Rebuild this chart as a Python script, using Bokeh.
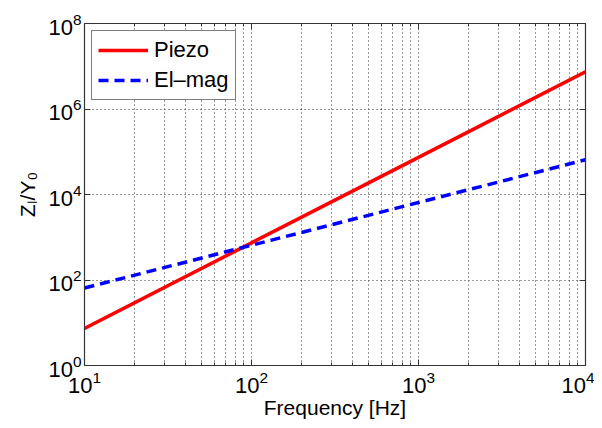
from bokeh.plotting import figure
from bokeh.models import FixedTicker, LogAxis, Legend
from bokeh.embed import file_html
from bokeh.resources import INLINE

freq = [10, 100, 1000, 10000]
piezo = [7.4, 740, 7.4e4, 7.4e6]
elmag = [65, 650, 6500, 65000]

x_major = [10, 100, 1000, 10000]
x_minor = [m * d for d in (10, 100, 1000) for m in range(2, 10)]
y_major = [1, 1e2, 1e4, 1e6, 1e8]

FONT = "Liberation Sans"
AX = "#333333"

p = figure(frame_width=501, frame_height=342, x_axis_type="log", y_axis_type="log",
           x_range=(10, 1e4), y_range=(1, 1e8), output_backend="svg",
           toolbar_location=None, min_border_left=84, min_border_top=23,
           min_border_bottom=55, min_border_right=9,
           background_fill_color="white", border_fill_color="white")
p.outline_line_color = AX
p.outline_line_width = 1.2

r1 = p.line(freq, piezo, line_color="#ff0000", line_width=3.5)
r2 = p.line(freq, elmag, line_color="#0000ff", line_width=3.5, line_dash="10 6")

xt = FixedTicker(ticks=x_major, minor_ticks=x_minor)
yt = FixedTicker(ticks=y_major, minor_ticks=[])

for ax in (p.xaxis[0], p.yaxis[0]):
    ax.major_tick_in = 6
    ax.major_tick_out = 0
    ax.minor_tick_in = 3
    ax.minor_tick_out = 0
    ax.axis_line_color = AX
    ax.major_tick_line_color = AX
    ax.minor_tick_line_color = AX
    ax.major_label_text_font = FONT
    ax.major_label_text_font_size = "22px"
    ax.major_label_text_color = "black"
    ax.axis_label_text_font = FONT
    ax.axis_label_text_font_size = "21px"
    ax.axis_label_text_font_style = "normal"
    ax.axis_label_text_color = "black"

p.xaxis[0].ticker = xt
p.yaxis[0].ticker = yt
p.xaxis[0].axis_label = "Frequency [Hz]"
p.yaxis[0].axis_label = "Z\u2097/Y\u2080"
p.xaxis[0].major_label_standoff = 5
p.xaxis[0].axis_label_standoff = 0
p.yaxis[0].major_label_standoff = 3
p.yaxis[0].axis_label_standoff = 6

# box ticks on top and right
top = LogAxis(ticker=xt, major_tick_in=6, major_tick_out=0, minor_tick_in=3, minor_tick_out=0,
              major_label_text_font_size="0px", major_label_standoff=0,
              axis_line_color=AX, major_tick_line_color=AX, minor_tick_line_color=AX)
top.major_label_overrides = {t: "" for t in x_major}
right = LogAxis(ticker=yt, major_tick_in=6, major_tick_out=0, minor_tick_in=3, minor_tick_out=0,
                major_label_text_font_size="0px", major_label_standoff=0,
                axis_line_color=AX, major_tick_line_color=AX, minor_tick_line_color=AX)
right.major_label_overrides = {t: "" for t in y_major}
p.add_layout(top, "above")
p.add_layout(right, "right")

p.xgrid.ticker = xt
p.ygrid.ticker = yt
for g in (p.xgrid[0], p.ygrid[0]):
    g.grid_line_color = "#333333"
    g.grid_line_dash = "1 3"
    g.grid_line_width = 1
p.xgrid[0].minor_grid_line_color = "#333333"
p.xgrid[0].minor_grid_line_dash = "1 3"
p.xgrid[0].minor_grid_line_width = 1

legend = Legend(items=[("Piezo", [r1]), ("El\u2013mag", [r2])], location="top_left")
legend.margin = 7
legend.padding = 6
legend.spacing = 4
legend.glyph_width = 50
legend.glyph_height = 22
legend.label_height = 22
legend.label_standoff = 6
legend.label_text_font = FONT
legend.label_text_font_size = "22px"
legend.label_text_color = "black"
legend.border_line_color = "black"
legend.border_line_width = 1
legend.background_fill_color = "white"
legend.background_fill_alpha = 1
p.add_layout(legend)

open("out.html", "w").write(file_html(p, INLINE))
